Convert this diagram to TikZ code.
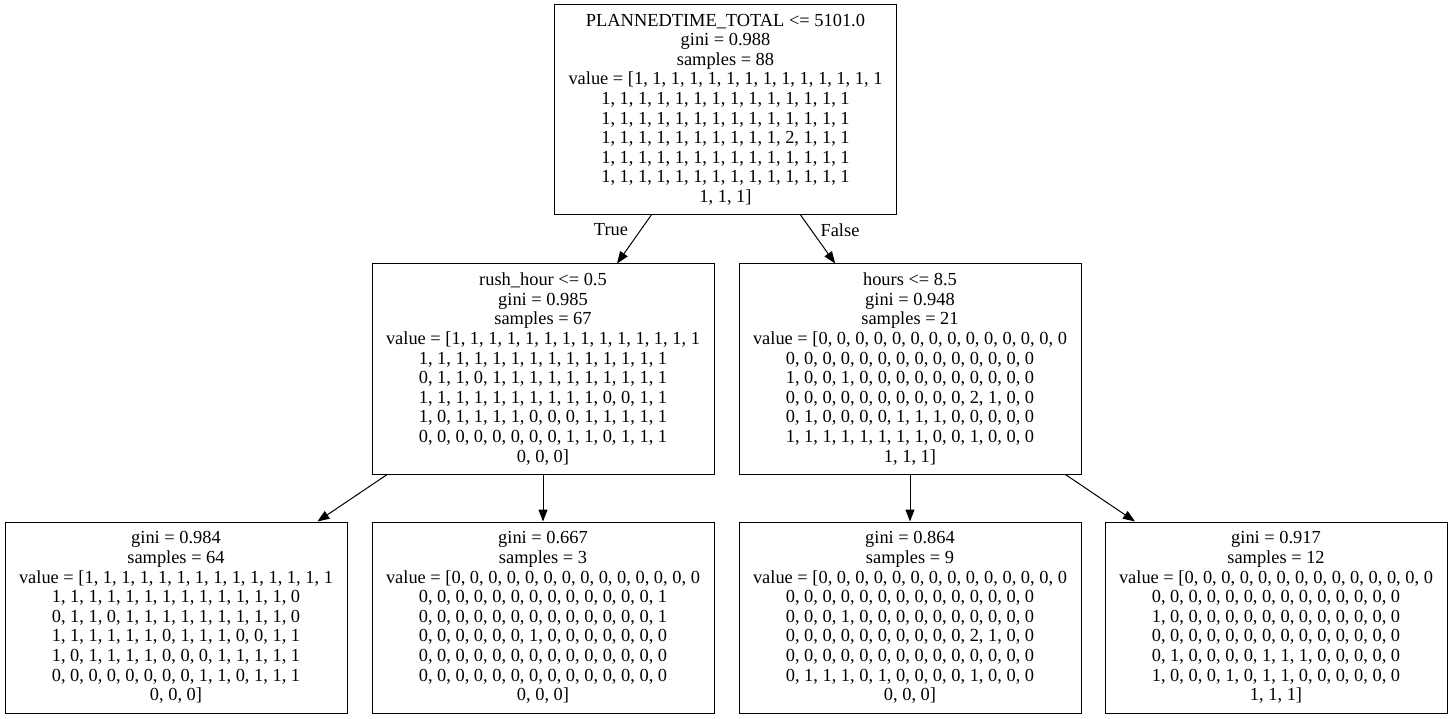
\documentclass[tikz,border=0pt]{standalone}
\usepackage{fontspec}
\setmainfont{Liberation Serif}
\usetikzlibrary{arrows.meta}

\begin{document}
\begin{tikzpicture}[x=1pt, y=1pt,
    treebox/.style={draw, line width=1pt, inner sep=0pt, align=center,
      minimum width=342pt, minimum height=210pt,
      font=\fontsize{18.4}{19.6}\selectfont},
    leafbox/.style={treebox, minimum height=191pt},
    edgelbl/.style={font=\fontsize{18.4}{19.6}\selectfont},
    arr/.style={-{Triangle[length=12pt, width=9pt]}, line width=1pt}]
        \useasboundingbox (0,0) rectangle (1453,-719);

        % Root split
        \node[treebox] (root) at (725.5,-109.5) {PLANNEDTIME\_TOTAL <= 5101.0\\gini = 0.988\\samples = 88\\
          value = [1, 1, 1, 1, 1, 1, 1, 1, 1, 1, 1, 1, 1, 1\\
          1, 1, 1, 1, 1, 1, 1, 1, 1, 1, 1, 1, 1, 1\\
          1, 1, 1, 1, 1, 1, 1, 1, 1, 1, 1, 1, 1, 1\\
          1, 1, 1, 1, 1, 1, 1, 1, 1, 1, 2, 1, 1, 1\\
          1, 1, 1, 1, 1, 1, 1, 1, 1, 1, 1, 1, 1, 1\\
          1, 1, 1, 1, 1, 1, 1, 1, 1, 1, 1, 1, 1, 1\\
          1, 1, 1]};

        % Second level
        \node[treebox] (rush) at (543,-369) {rush\_hour <= 0.5\\gini = 0.985\\samples = 67\\
          value = [1, 1, 1, 1, 1, 1, 1, 1, 1, 1, 1, 1, 1, 1\\
          1, 1, 1, 1, 1, 1, 1, 1, 1, 1, 1, 1, 1, 1\\
          0, 1, 1, 0, 1, 1, 1, 1, 1, 1, 1, 1, 1, 1\\
          1, 1, 1, 1, 1, 1, 1, 1, 1, 1, 0, 0, 1, 1\\
          1, 0, 1, 1, 1, 1, 0, 0, 0, 1, 1, 1, 1, 1\\
          0, 0, 0, 0, 0, 0, 0, 0, 1, 1, 0, 1, 1, 1\\
          0, 0, 0]};
        \node[treebox] (hours) at (910,-369) {hours <= 8.5\\gini = 0.948\\samples = 21\\
          value = [0, 0, 0, 0, 0, 0, 0, 0, 0, 0, 0, 0, 0, 0\\
          0, 0, 0, 0, 0, 0, 0, 0, 0, 0, 0, 0, 0, 0\\
          1, 0, 0, 1, 0, 0, 0, 0, 0, 0, 0, 0, 0, 0\\
          0, 0, 0, 0, 0, 0, 0, 0, 0, 0, 2, 1, 0, 0\\
          0, 1, 0, 0, 0, 0, 1, 1, 1, 0, 0, 0, 0, 0\\
          1, 1, 1, 1, 1, 1, 1, 1, 0, 0, 1, 0, 0, 0\\
          1, 1, 1]};

        % Leaves
        \node[leafbox] (leafA) at (176,-617.5) {gini = 0.984\\samples = 64\\
          value = [1, 1, 1, 1, 1, 1, 1, 1, 1, 1, 1, 1, 1, 1\\
          1, 1, 1, 1, 1, 1, 1, 1, 1, 1, 1, 1, 1, 0\\
          0, 1, 1, 0, 1, 1, 1, 1, 1, 1, 1, 1, 1, 0\\
          1, 1, 1, 1, 1, 1, 0, 1, 1, 1, 0, 0, 1, 1\\
          1, 0, 1, 1, 1, 1, 0, 0, 0, 1, 1, 1, 1, 1\\
          0, 0, 0, 0, 0, 0, 0, 0, 1, 1, 0, 1, 1, 1\\
          0, 0, 0]};
        \node[leafbox] (leafB) at (543,-617.5) {gini = 0.667\\samples = 3\\
          value = [0, 0, 0, 0, 0, 0, 0, 0, 0, 0, 0, 0, 0, 0\\
          0, 0, 0, 0, 0, 0, 0, 0, 0, 0, 0, 0, 0, 1\\
          0, 0, 0, 0, 0, 0, 0, 0, 0, 0, 0, 0, 0, 1\\
          0, 0, 0, 0, 0, 0, 1, 0, 0, 0, 0, 0, 0, 0\\
          0, 0, 0, 0, 0, 0, 0, 0, 0, 0, 0, 0, 0, 0\\
          0, 0, 0, 0, 0, 0, 0, 0, 0, 0, 0, 0, 0, 0\\
          0, 0, 0]};
        \node[leafbox] (leafC) at (910,-617.5) {gini = 0.864\\samples = 9\\
          value = [0, 0, 0, 0, 0, 0, 0, 0, 0, 0, 0, 0, 0, 0\\
          0, 0, 0, 0, 0, 0, 0, 0, 0, 0, 0, 0, 0, 0\\
          0, 0, 0, 1, 0, 0, 0, 0, 0, 0, 0, 0, 0, 0\\
          0, 0, 0, 0, 0, 0, 0, 0, 0, 0, 2, 1, 0, 0\\
          0, 0, 0, 0, 0, 0, 0, 0, 0, 0, 0, 0, 0, 0\\
          0, 1, 1, 1, 0, 1, 0, 0, 0, 0, 1, 0, 0, 0\\
          0, 0, 0]};
        \node[leafbox] (leafD) at (1276,-617.5) {gini = 0.917\\samples = 12\\
          value = [0, 0, 0, 0, 0, 0, 0, 0, 0, 0, 0, 0, 0, 0\\
          0, 0, 0, 0, 0, 0, 0, 0, 0, 0, 0, 0, 0, 0\\
          1, 0, 0, 0, 0, 0, 0, 0, 0, 0, 0, 0, 0, 0\\
          0, 0, 0, 0, 0, 0, 0, 0, 0, 0, 0, 0, 0, 0\\
          0, 1, 0, 0, 0, 0, 1, 1, 1, 0, 0, 0, 0, 0\\
          1, 0, 0, 0, 1, 0, 1, 1, 0, 0, 0, 0, 0, 0\\
          1, 1, 1]};

        % Edges
        \draw[arr] (root) -- (rush);
        \draw[arr] (root) -- (hours);
        \draw[arr] (rush) -- (leafA);
        \draw[arr] (rush) -- (leafB);
        \draw[arr] (hours) -- (leafC);
        \draw[arr] (hours) -- (leafD);
        \node[edgelbl] (lblTrue) at (611,-230) {True};
        \node[edgelbl] (lblFalse) at (840,-230) {False};
    \end{tikzpicture}
\end{document}
